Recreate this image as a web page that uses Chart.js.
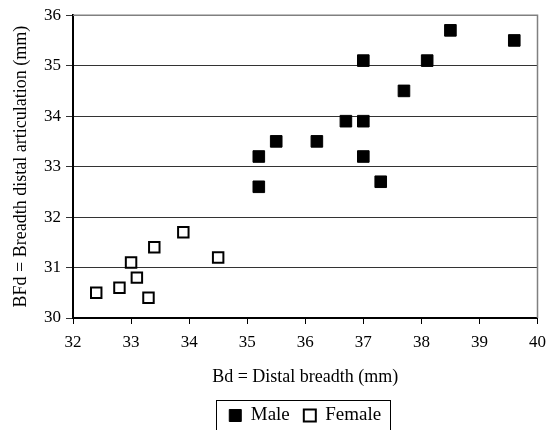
<!DOCTYPE html>
<html>
<head>
<meta charset="utf-8">
<script src="https://cdn.jsdelivr.net/npm/chart.js@4/dist/chart.umd.min.js"></script>
<style>
  html, body { margin: 0; padding: 0; background: #fff; }
  #wrap { width: 554px; height: 430px; }
</style>
</head>
<body>
<div id="wrap"><canvas id="chart" width="554" height="430"></canvas></div>
<script>
// Bd (x) / BFd (y)
const maleBd = [35.2, 35.2, 35.5, 36.2, 36.7, 37.0, 37.0, 37.0, 37.3, 37.7, 38.1, 38.5, 39.6];
const maleBFd = [33.2, 32.6, 33.5, 33.5, 33.9, 35.1, 33.9, 33.2, 32.7, 34.5, 35.1, 35.7, 35.5];
const femaleBd = [32.4, 32.8, 33.0, 33.1, 33.3, 33.4, 33.9, 34.5];
const femaleBFd = [30.5, 30.6, 31.1, 30.8, 30.4, 31.4, 31.7, 31.2];
const xTicks = [32, 33, 34, 35, 36, 37, 38, 39, 40];
const yTicks = [30, 31, 32, 33, 34, 35, 36];

const serif = "'Liberation Serif', 'Times New Roman', serif";
const PLOT_LEFT = 73;
const PLOT_BOTTOM = 318;
const PAD_BOTTOM = -5;
const LEGEND_H = 43; // what the legend fits to with a 19px font

const toPoints = (xs, ys) => xs.map((x, i) => ({ x: x, y: ys[i] }));

// grey frame on top/right like the excel plot area, box round the legend
const framePlugin = {
  id: 'frame',
  beforeDatasetsDraw(chart) {
    const a = chart.chartArea;
    const ctx = chart.ctx;
    ctx.save();
    ctx.strokeStyle = '#808080';
    ctx.lineWidth = 1.5;
    ctx.beginPath();
    ctx.moveTo(a.left, a.top);
    ctx.lineTo(a.right, a.top);
    ctx.lineTo(a.right, a.bottom);
    ctx.stroke();
    ctx.restore();
  },
  afterDraw(chart) {
    const boxes = chart.legend && chart.legend.legendHitBoxes;
    if (!boxes || !boxes.length) return;
    const left = Math.min(...boxes.map((b) => b.left)) - 13;
    const right = Math.max(...boxes.map((b) => b.left + b.width)) + 9;
    const top = Math.min(...boxes.map((b) => b.top)) - 6;
    const ctx = chart.ctx;
    ctx.save();
    ctx.strokeStyle = '#000';
    ctx.lineWidth = 1;
    ctx.strokeRect(Math.round(left) + 0.5, Math.round(top) + 0.5, Math.round(right - left), 80);
    ctx.restore();
  },
};

new Chart(document.getElementById('chart'), {
  type: 'scatter',
  data: {
    datasets: [
      {
        label: 'Male',
        data: toPoints(maleBd, maleBFd),
        pointStyle: 'rect',
        pointRadius: 8.2,
        pointHoverRadius: 8.2,
        backgroundColor: '#000',
        borderColor: '#000',
        borderWidth: 1,
      },
      {
        label: 'Female',
        data: toPoints(femaleBd, femaleBFd),
        pointStyle: 'rect',
        pointRadius: 7.4,
        pointHoverRadius: 7.4,
        backgroundColor: '#fff',
        borderColor: '#000',
        borderWidth: 2,
      },
    ],
  },
  options: {
    responsive: false,
    animation: false,
    layout: { padding: { top: 15, right: 16, left: 0, bottom: PAD_BOTTOM } },
    plugins: {
      tooltip: { enabled: false },
      legend: {
        position: 'bottom',
        fullSize: false,
        labels: {
          usePointStyle: true,
          pointStyle: 'rect',
          boxWidth: 12,
          boxHeight: 12,
          padding: 14,
          color: '#000',
          font: { family: serif, size: 19 },
        },
      },
    },
    scales: {
      x: {
        type: 'linear',
        min: 32,
        max: 40,
        afterBuildTicks: (axis) => { axis.ticks = xTicks.map((v) => ({ value: v })); },
        afterFit: (scale) => { scale.height = 430 - PAD_BOTTOM - PLOT_BOTTOM - LEGEND_H; },
        border: { color: '#000', width: 2 },
        grid: { drawOnChartArea: false, drawTicks: true, tickLength: 6, color: '#000', tickWidth: 1 },
        ticks: { color: '#000', padding: 8, font: { family: serif, size: 17 } },
        title: {
          display: true,
          text: 'Bd = Distal breadth (mm)',
          color: '#000',
          padding: { top: 8, bottom: 4 },
          font: { family: serif, size: 18 },
        },
      },
      y: {
        type: 'linear',
        min: 30,
        max: 36,
        afterBuildTicks: (axis) => { axis.ticks = yTicks.map((v) => ({ value: v })); },
        afterFit: (scale) => { scale.width = PLOT_LEFT; },
        border: { color: '#000', width: 2 },
        grid: { color: '#333', lineWidth: 1, tickLength: 7, drawTicks: true },
        ticks: { color: '#000', padding: 5, font: { family: serif, size: 17 } },
        title: {
          display: true,
          text: 'BFd = Breadth distal articulation (mm)',
          color: '#000',
          padding: { top: 10, bottom: 0 },
          font: { family: serif, size: 18 },
        },
      },
    },
  },
  plugins: [framePlugin],
});
</script>
</body>
</html>
